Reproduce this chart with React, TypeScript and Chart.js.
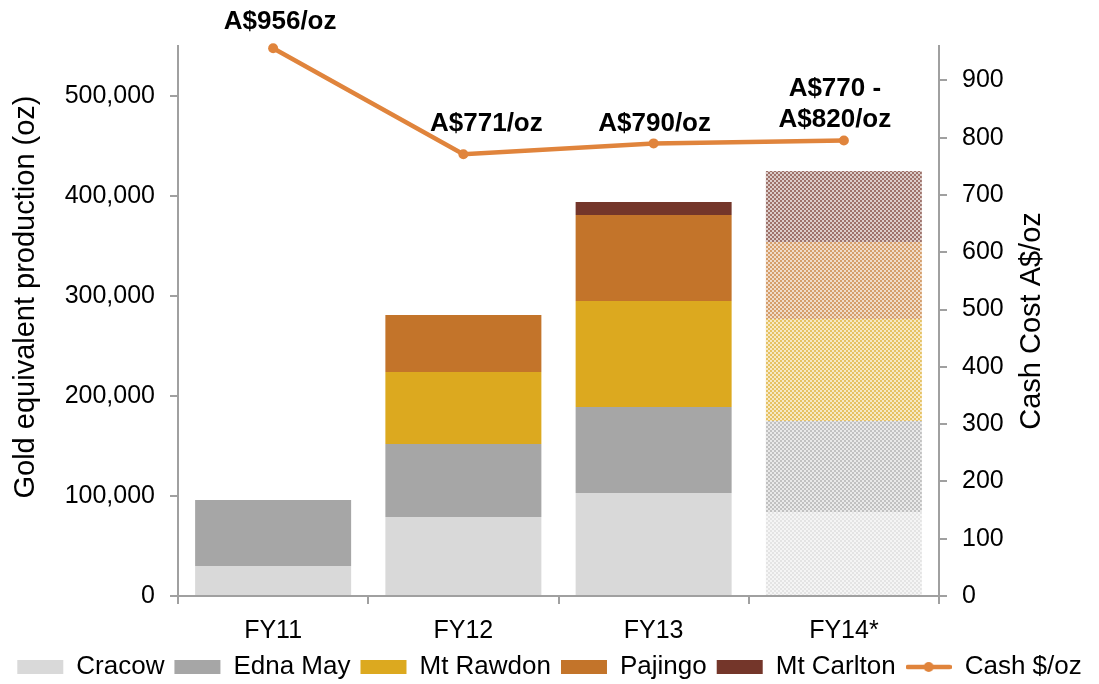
import React, { useEffect, useRef } from 'react';
import { Chart, registerables } from 'chart.js';

Chart.register(...registerables);

// ---- data ----
const categories = ['FY11', 'FY12', 'FY13', 'FY14*'];
const cracow = [30000, 79000, 103000, 84000];
const ednaMay = [66000, 73000, 86000, 91000];
const mtRawdon = [0, 72000, 106000, 102000];
const pajingo = [0, 57000, 86000, 77000];
const mtCarlton = [0, 0, 13000, 71000];
const cashCost = [956, 771, 790, 795];
const cashLabels = [['A$956/oz'], ['A$771/oz'], ['A$790/oz'], ['A$770 -', 'A$820/oz']];
const seriesNames = ['Cracow', 'Edna May', 'Mt Rawdon', 'Pajingo', 'Mt Carlton', 'Cash $/oz'];
const leftTickValues = [0, 100000, 200000, 300000, 400000, 500000];
const rightTickValues = [0, 100, 200, 300, 400, 500, 600, 700, 800, 900];
const leftMax = 550000;
const rightMax = 960;
const leftTitle = 'Gold equivalent production (oz)';
const rightTitle = 'Cash Cost A$/oz';

// ---- styles ----
const seriesColors = ['#D9D9D9', '#A6A6A6', '#DCA91F', '#C3742A', '#74362A', '#E0843C'];
const labelOffsets: [number, number][] = [[7, -26], [23, -30], [1, -20], [-9, -36]];
const FONT = '"Liberation Sans", Arial, Helvetica, sans-serif';
const AXIS_GRAY = '#A0A0A0';

function makePattern(hex: string): CanvasPattern | string {
  const c = document.createElement('canvas');
  c.width = 4;
  c.height = 4;
  const g = c.getContext('2d');
  if (!g) return hex;
  g.fillStyle = '#ffffff';
  g.fillRect(0, 0, 4, 4);
  g.fillStyle = hex;
  g.globalAlpha = 0.25;
  g.fillRect(0, 0, 4, 4);
  g.globalAlpha = 0.6;
  g.fillRect(0, 0, 2, 2);
  g.fillRect(2, 2, 2, 2);
  const p = g.createPattern(c, 'repeat');
  return p || hex;
}

function makeLineIcon(color: string): HTMLCanvasElement {
  const c = document.createElement('canvas');
  c.width = 46;
  c.height = 14;
  const g = c.getContext('2d');
  if (g) {
    g.strokeStyle = color;
    g.lineWidth = 4.5;
    g.lineCap = 'round';
    g.beginPath();
    g.moveTo(2, 7);
    g.lineTo(44, 7);
    g.stroke();
    g.fillStyle = color;
    g.beginPath();
    g.arc(23, 7, 5, 0, Math.PI * 2);
    g.fill();
  }
  return c;
}

const labelPlugin = {
  id: 'cashLabels',
  afterDatasetsDraw(chart: any) {
    const meta = chart.getDatasetMeta(5);
    const ctx = chart.ctx as CanvasRenderingContext2D;
    ctx.save();
    ctx.font = `bold 26px ${FONT}`;
    ctx.fillStyle = '#000';
    ctx.textAlign = 'center';
    ctx.textBaseline = 'middle';
    meta.data.forEach((pt: any, i: number) => {
      const lines = cashLabels[i];
      const [dx, dy] = labelOffsets[i];
      const lh = 31;
      const y0 = pt.y + dy - ((lines.length - 1) * lh) / 2;
      lines.forEach((t, j) => ctx.fillText(t, pt.x + dx, y0 + j * lh));
    });
    ctx.restore();
  },
};

const titlePlugin = {
  id: 'axisTitles',
  afterDraw(chart: any) {
    const ctx = chart.ctx as CanvasRenderingContext2D;
    const area = chart.chartArea;
    ctx.save();
    ctx.font = `29px ${FONT}`;
    ctx.fillStyle = '#000';
    ctx.textAlign = 'center';
    ctx.textBaseline = 'alphabetic';
    ctx.save();
    ctx.translate(34, (area.top + area.bottom) / 2 - 24);
    ctx.rotate(-Math.PI / 2);
    ctx.fillText(leftTitle, 0, 0);
    ctx.restore();
    ctx.save();
    ctx.translate(1040, (area.top + area.bottom) / 2);
    ctx.rotate(-Math.PI / 2);
    ctx.fillText(rightTitle, 0, 0);
    ctx.restore();
    ctx.restore();
  },
};

export default function App() {
  const ref = useRef<HTMLCanvasElement | null>(null);

  useEffect(() => {
    if (!ref.current) return;
    Chart.defaults.font.family = FONT;
    Chart.defaults.color = '#000';

    const barSeries = [cracow, ednaMay, mtRawdon, pajingo, mtCarlton];
    const lineIcon = makeLineIcon(seriesColors[5]);

    const datasets: any[] = barSeries.map((vals, i) => ({
      type: 'bar',
      label: seriesNames[i],
      data: vals,
      backgroundColor: vals.map((_, j) => (j === 3 ? makePattern(seriesColors[i]) : seriesColors[i])),
      borderWidth: 0,
      yAxisID: 'y',
      barPercentage: 0.82,
      categoryPercentage: 1,
      stack: 'prod',
      order: 1,
    }));
    datasets.push({
      type: 'line',
      label: seriesNames[5],
      data: cashCost,
      borderColor: seriesColors[5],
      backgroundColor: seriesColors[5],
      borderWidth: 4.5,
      pointRadius: 5,
      pointBackgroundColor: seriesColors[5],
      pointBorderWidth: 0,
      yAxisID: 'y1',
      tension: 0,
      clip: false,
      order: 0,
    });

    const tickFont = { size: 25, family: FONT };

    const chart = new Chart(ref.current, {
      type: 'bar',
      data: { labels: categories, datasets },
      plugins: [labelPlugin, titlePlugin],
      options: {
        animation: false,
        responsive: true,
        maintainAspectRatio: false,
        layout: { padding: { top: 46, left: 0, right: 0, bottom: 0 } },
        plugins: {
          tooltip: { enabled: false },
          legend: {
            position: 'bottom',
            labels: {
              font: { size: 26, family: FONT },
              color: '#000',
              usePointStyle: true,
              pointStyleWidth: 46,
              boxWidth: 46,
              boxHeight: 14,
              padding: 10,
              generateLabels: (ch: any) =>
                ch.data.datasets.map((ds: any, i: number) => ({
                  text: ds.label,
                  fillStyle: seriesColors[i],
                  strokeStyle: 'transparent',
                  lineWidth: 0,
                  pointStyle: i === 5 ? lineIcon : 'rect',
                  hidden: false,
                  datasetIndex: i,
                  fontColor: '#000',
                })),
            },
          },
        },
        scales: {
          x: {
            stacked: true,
            offset: true,
            grid: {
              offset: true,
              drawOnChartArea: false,
              drawTicks: true,
              tickLength: 8,
              color: AXIS_GRAY,
              lineWidth: 2,
            },
            border: { color: AXIS_GRAY, width: 2 },
            ticks: { font: tickFont, color: '#000', padding: 12 },
            afterFit: (s: any) => {
              s.height = 48;
            },
          },
          y: {
            stacked: true,
            position: 'left',
            min: 0,
            max: leftMax,
            grid: {
              drawOnChartArea: false,
              drawTicks: true,
              tickLength: 8,
              color: AXIS_GRAY,
              lineWidth: 2,
            },
            border: { color: AXIS_GRAY, width: 2 },
            ticks: {
              autoSkip: false,
              font: tickFont,
              color: '#000',
              padding: 15,
              callback: (v: any) => Number(v).toLocaleString('en-US'),
            },
            afterBuildTicks: (s: any) => {
              s.ticks = leftTickValues.map((v) => ({ value: v }));
            },
            afterFit: (s: any) => {
              s.width = 178;
            },
          },
          y1: {
            position: 'right',
            min: 0,
            max: rightMax,
            grid: {
              drawOnChartArea: false,
              drawTicks: true,
              tickLength: 8,
              color: AXIS_GRAY,
              lineWidth: 2,
            },
            border: { color: AXIS_GRAY, width: 2 },
            ticks: {
              autoSkip: false,
              font: tickFont,
              color: '#000',
              padding: 15,
            },
            afterBuildTicks: (s: any) => {
              s.ticks = rightTickValues.map((v) => ({ value: v }));
            },
            afterFit: (s: any) => {
              s.width = 160;
            },
          },
        },
      },
    });
    return () => chart.destroy();
  }, []);

  return (
    <div style={{ position: 'fixed', left: 0, top: 0, width: 1099, height: 690, background: '#fff' }}>
      <canvas ref={ref} />
    </div>
  );
}
